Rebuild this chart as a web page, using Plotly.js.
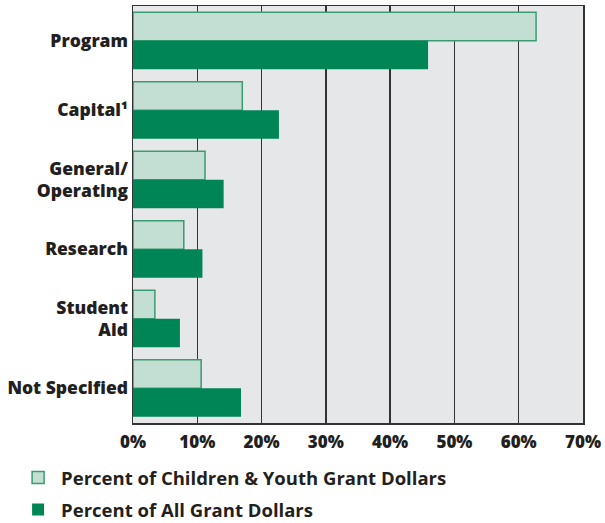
<!DOCTYPE html>
<html>
<head>
<meta charset="utf-8">
<script src="https://cdn.plot.ly/plotly-3.0.1.min.js"></script>
<style>
html,body{margin:0;padding:0;background:#fff;}
#chart{width:605px;height:523px;}
</style>
</head>
<body>
<div id="chart"></div>
<script>
var categories = ["Program", "Capital¹", "General/<br>Operating", "Research", "Student<br>Aid", "Not Specified"];
var childrenYouth = [62.7, 17.0, 11.2, 7.9, 3.4, 10.6];
var allGrants = [45.9, 22.7, 14.1, 10.8, 7.3, 16.8];
var seriesNames = ["Percent of Children & Youth Grant Dollars", "Percent of All Grant Dollars"];
var xTickVals = [0, 10, 20, 30, 40, 50, 60, 70];
var xTickText = ["0%", "10%", "20%", "30%", "40%", "50%", "60%", "70%"];

var fontFam = "'Open Sans', Lato, sans-serif";

var traces = [
  {
    type: "bar", orientation: "h",
    name: seriesNames[0], legendgroup: "g1",
    y: categories, x: childrenYouth,
    marker: {color: "#c3dfd3", line: {color: "#3a9b73", width: 1.5}},
    hoverinfo: "x+y"
  },
  {
    type: "bar", orientation: "h",
    name: seriesNames[1], legendgroup: "g2",
    y: categories, x: allGrants,
    marker: {color: "#008556", line: {color: "#008556", width: 0}},
    hoverinfo: "x+y"
  }
];

var layout = {
  width: 605, height: 523,
  margin: {l: 133, r: 22, t: 6, b: 100, autoexpand: false},
  paper_bgcolor: "#ffffff",
  plot_bgcolor: "#e6e7e8",
  barmode: "group",
  bargap: 0.18,
  bargroupgap: 0,
  font: {family: fontFam, size: 17, color: "#231f20"},
  xaxis: {
    range: [0, 70],
    tickvals: xTickVals, ticktext: xTickText,
    showgrid: true, gridcolor: "#333333", gridwidth: 1.5,
    zeroline: false,
    showline: true, mirror: true, linecolor: "#333333", linewidth: 1.5,
    ticks: "", ticklabelstandoff: 3,
    tickfont: {family: fontFam, size: 17, color: "#231f20", weight: 800},
    fixedrange: true
  },
  yaxis: {
    categoryorder: "array", categoryarray: categories,
    autorange: "reversed",
    showgrid: false, zeroline: false,
    showline: true, mirror: true, linecolor: "#333333", linewidth: 1.5,
    ticks: "", ticklabelstandoff: 0,
    tickfont: {family: fontFam, size: 17.5, color: "#231f20", weight: 800},
    fixedrange: true
  },
  showlegend: true,
  legend: {
    orientation: "v",
    x: -0.262, xanchor: "left",
    y: -0.086, yanchor: "top",
    traceorder: "grouped",
    font: {family: fontFam, size: 18.5, color: "#231f20", weight: 700},
    bgcolor: "rgba(0,0,0,0)",
    itemwidth: 36,
    tracegroupgap: 5
  }
};

Plotly.newPlot("chart", traces, layout, {displayModeBar: false, staticPlot: true});
</script>
</body>
</html>
